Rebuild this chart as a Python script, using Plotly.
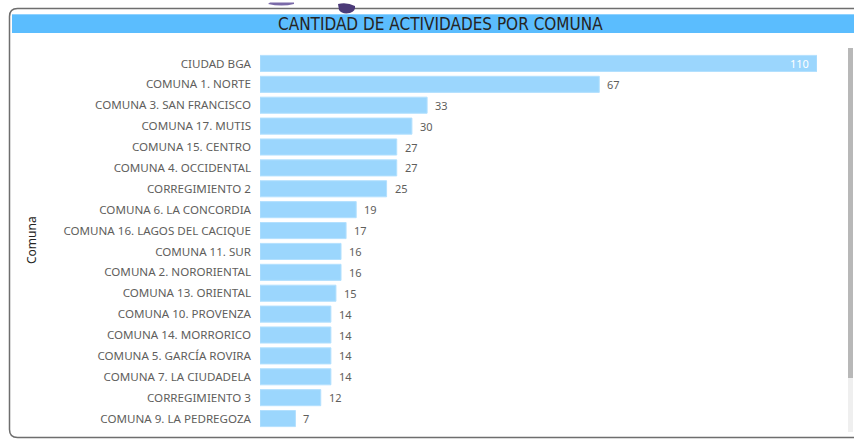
import plotly.graph_objects as go

# Activities per comuna
comunas = [
    "CIUDAD BGA",
    "COMUNA 1. NORTE",
    "COMUNA 3. SAN FRANCISCO",
    "COMUNA 17. MUTIS",
    "COMUNA 15. CENTRO",
    "COMUNA 4. OCCIDENTAL",
    "CORREGIMIENTO 2",
    "COMUNA 6. LA CONCORDIA",
    "COMUNA 16. LAGOS DEL CACIQUE",
    "COMUNA 11. SUR",
    "COMUNA 2. NORORIENTAL",
    "COMUNA 13. ORIENTAL",
    "COMUNA 10. PROVENZA",
    "COMUNA 14. MORRORICO",
    "COMUNA 5. GARCÍA ROVIRA",
    "COMUNA 7. LA CIUDADELA",
    "CORREGIMIENTO 3",
    "COMUNA 9. LA PEDREGOZA",
]
actividades = [110, 67, 33, 30, 27, 27, 25, 19, 17, 16, 16, 15, 14, 14, 14, 14, 12, 7]

W, H = 854, 439
ML, MR, MT, MB = 260, 37, 53, 10
PW, PH = W - ML - MR, H - MT - MB


def px(x):
    return (x - ML) / PW


def py(y):
    return (H - MB - y) / PH


fig = go.Figure(
    go.Bar(
        x=actividades,
        y=comunas,
        orientation="h",
        marker=dict(color="#9BD6FD", line=dict(width=1, color="#B3E0FE")),
        hoverinfo="x+y",
    )
)

# value labels: inside for the widest bar, outside for the rest
vmax = max(actividades)
for c, v in zip(comunas, actividades):
    inside = v == vmax
    fig.add_annotation(
        x=v, y=c, xref="x", yref="y",
        text=str(v), showarrow=False,
        xanchor="right" if inside else "left",
        xshift=-6 if inside else 6,
        font=dict(family="Noto Sans", size=11, color="#FFFFFF" if inside else "#605E5C"),
    )

# axis title
fig.add_annotation(
    x=px(31), y=py(240), xref="paper", yref="paper",
    xanchor="center", yanchor="middle",
    text="Comuna", textangle=-90, showarrow=False,
    font=dict(family="Noto Sans", size=12, color="#252423"),
)

# header title
fig.add_annotation(
    x=px(440), y=py(24), xref="paper", yref="paper",
    text="CANTIDAD DE ACTIVIDADES POR COMUNA", showarrow=False,
    xanchor="center", yanchor="middle",
    font=dict(family="DejaVu Sans Condensed", size=17, color="#252423"),
)

shapes = []
# header band
shapes.append(dict(type="rect", xref="paper", yref="paper",
                   x0=px(12), x1=px(860), y0=py(14), y1=py(33),
                   fillcolor="#5BBDFE", line=dict(width=0), layer="below"))
shapes.append(dict(type="line", xref="paper", yref="paper",
                   x0=px(12), x1=px(860), y0=py(14.5), y1=py(14.5),
                   line=dict(color="#8FD2FF", width=1)))

# rounded card outline
r = 8
path = (
    f"M {px(860)},{py(8.5)} L {px(9.5 + r)},{py(8.5)} "
    f"Q {px(9.5)},{py(8.5)} {px(9.5)},{py(8.5 + r)} "
    f"L {px(9.5)},{py(437.5 - r)} "
    f"Q {px(9.5)},{py(437.5)} {px(9.5 + r)},{py(437.5)} "
    f"L {px(860)},{py(437.5)}"
)
shapes.append(dict(type="path", xref="paper", yref="paper", path=path,
                   line=dict(color="#6E6E6E", width=1.5)))

# scrollbar
shapes.append(dict(type="rect", xref="paper", yref="paper",
                   x0=px(848), x1=px(853), y0=py(48), y1=py(378),
                   fillcolor="#B8B8B8", line=dict(width=0)))
shapes.append(dict(type="rect", xref="paper", yref="paper",
                   x0=px(848), x1=px(853), y0=py(378), y1=py(432),
                   fillcolor="#EFEFEF", line=dict(width=0)))

# decorative purple fragments at the top edge
shapes.append(dict(type="path", xref="paper", yref="paper",
                   path=(f"M {px(268)},{py(4)} Q {px(282)},{py(7)} {px(294)},{py(4)} "
                         f"L {px(294)},{py(2.5)} L {px(270)},{py(2.5)} Z"),
                   fillcolor="#7A6AA8", line=dict(width=0)))
shapes.append(dict(type="path", xref="paper", yref="paper",
                   path=(f"M {px(338)},{py(4)} L {px(339)},{py(10)} "
                         f"Q {px(342)},{py(14.5)} {px(350)},{py(13)} "
                         f"Q {px(356)},{py(11)} {px(355)},{py(6)} "
                         f"Q {px(347)},{py(2)} {px(338)},{py(4)} Z"),
                   fillcolor="#4B3A78", line=dict(width=0)))

fig.update_layout(
    width=W, height=H,
    margin=dict(l=ML, r=MR, t=MT, b=MB, autoexpand=False),
    paper_bgcolor="#FFFFFF", plot_bgcolor="#FFFFFF",
    showlegend=False,
    bargap=0.23,
    shapes=shapes,
    xaxis=dict(range=[0, vmax], visible=False, fixedrange=True),
    yaxis=dict(
        autorange="reversed", showgrid=False, zeroline=False, showline=False,
        ticks="", ticklabelstandoff=8,
        tickfont=dict(family="Noto Sans", size=11.6, color="#605E5C"),
        fixedrange=True,
    ),
)

fig.write_html("out.html", config={"displayModeBar": False})
